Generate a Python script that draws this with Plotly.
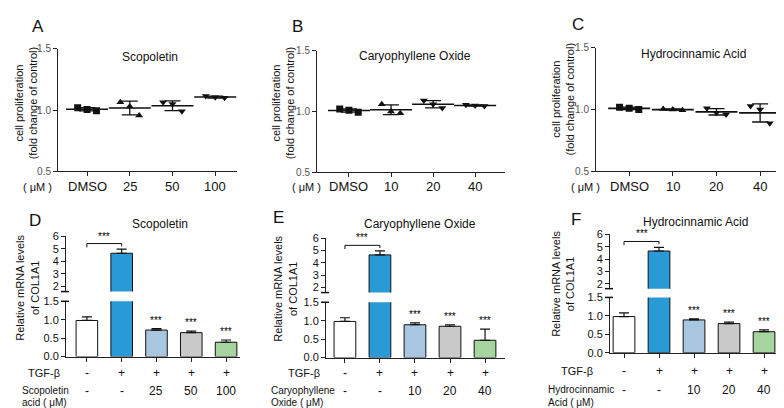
import numpy as np
import plotly.graph_objects as go

W, H = 784, 408
FONT = "Liberation Sans, Arial, sans-serif"

# ---- top row: cell proliferation (fold change of control), 3 replicates per group
prolif_titles = ["Scopoletin", "Caryophyllene Oxide", "Hydrocinnamic Acid"]
scop_doses = ["DMSO", "25", "50", "100"]
cary_doses = ["DMSO", "10", "20", "40"]
hydro_doses = ["DMSO", "10", "20", "40"]
scop_reps = [[1.02, 1.005, 0.995], [1.065, 1.03, 0.955], [1.065, 1.05, 0.99], [1.115, 1.105, 1.10]]
cary_reps = [[1.02, 1.01, 0.995], [1.06, 1.0, 0.985], [1.09, 1.06, 1.03], [1.055, 1.05, 1.045]]
hydro_reps = [[1.02, 1.01, 1.0], [1.005, 1.0, 0.995], [1.01, 0.975, 0.96], [1.03, 1.0, 0.89]]

# ---- bottom row: relative mRNA levels of COL1A1 (mean, SD)
mrna_titles = ["Scopoletin", "Caryophyllene Oxide", "Hydrocinnamic Acid"]
tgf_row = ["-", "+", "+", "+", "+"]
scop_dose_row = ["-", "-", "25", "50", "100"]
cary_dose_row = ["-", "-", "10", "20", "40"]
hydro_dose_row = ["-", "-", "10", "20", "40"]
scop_mrna = [0.98, 4.65, 0.72, 0.65, 0.39]
scop_mrna_err = [0.10, 0.33, 0.04, 0.04, 0.06]
cary_mrna = [0.98, 4.65, 0.89, 0.85, 0.47]
cary_mrna_err = [0.10, 0.33, 0.05, 0.04, 0.30]
hydro_mrna = [0.98, 4.65, 0.89, 0.79, 0.57]
hydro_mrna_err = [0.10, 0.30, 0.03, 0.04, 0.05]
significant = [False, False, True, True, True]

bar_colors = ["#ffffff", "#2a9ad6", "#a8c6df", "#c9c9c9", "#a6d49e"]


def fx(p):
    return p / W


def fy(p):
    return 1 - p / H


def ax_name(n):
    return "" if n == 1 else str(n)


line_style = dict(showline=True, linecolor="#222", linewidth=1, ticks="outside", ticklen=4,
                  tickcolor="#222", showgrid=False, zeroline=False)

fig = go.Figure()
layout = {}
annotations = []
shapes = []


def ann(text, x, y, size=11, xanchor="center", yanchor="middle", xref="paper", yref="paper", color="#111", **kw):
    if xref == "paper":
        x = fx(x)
    if yref == "paper":
        y = fy(y)
    annotations.append(dict(text=text, x=x, y=y, xref=xref, yref=yref, xanchor=xanchor, yanchor=yanchor,
                            showarrow=False, font=dict(size=size, color=color, family=FONT), **kw))


# ---------- top panels
top_specs = [
    # data, doses, x domain px, y domain px (top, bottom), x range, letter pos, title pos, ytitle pos, uM pos
    (scop_reps, scop_doses, (50, 229), (36, 162), (-0.68, 3.51), "A", (30, 13), (142, 44), (18, 92), (29, 178)),
    (cary_reps, cary_doses, (309, 497), (38, 163), (-0.76, 3.71), "B", (289, 13), (407, 43), (275, 92), (298, 178)),
    (hydro_reps, hydro_doses, (588, 777), (35, 162), (-0.76, 3.57), "C", (570, 11), (685, 41), (555, 88), (577, 178)),
]
group_symbols = ["square", "triangle-up", "triangle-down", "triangle-down"]
offsets = [-0.22, 0.0, 0.22]

for k, (reps, doses, xd, yd, xr, letter, lpos, tpos, ypos, upos) in enumerate(top_specs):
    n = k + 1
    xa, ya = "x" + ax_name(n), "y" + ax_name(n)
    reps = np.array(reps)
    idx = np.arange(len(doses))
    means = reps.mean(axis=1)
    sds = reps.std(axis=1, ddof=1)
    for j in range(reps.shape[1]):
        fig.add_trace(go.Scatter(x=idx + offsets[j], y=reps[:, j], mode="markers", xaxis=xa, yaxis=ya,
                                 marker=dict(symbol=group_symbols, size=7, color="#111"),
                                 showlegend=False, hoverinfo="skip"))
    fig.add_trace(go.Scatter(x=idx, y=means, mode="markers", xaxis=xa, yaxis=ya,
                             marker=dict(symbol="line-ew", size=30, line=dict(width=1.6, color="#111")),
                             error_y=dict(type="data", array=sds, color="#111", thickness=1.3, width=8),
                             showlegend=False))
    layout["xaxis" + ax_name(n)] = dict(line_style, domain=[fx(xd[0]), fx(xd[1])], range=list(xr), anchor=ya,
                                        tickvals=list(idx), showticklabels=False)
    layout["yaxis" + ax_name(n)] = dict(line_style, domain=[fy(yd[1]), fy(yd[0])], range=[0.5, 1.5], anchor=xa,
                                        tickvals=[0.5, 1.0, 1.5], tickformat=".1f",
                                        tickfont=dict(size=10, color="#555", family=FONT))
    # dose tick labels
    for i, d in enumerate(doses):
        ann(d, i, upos[1], size=13, xref=xa)
    ann(letter, lpos[0], lpos[1], size=17)
    ann(prolif_titles[k], tpos[0], tpos[1], size=12)
    ann("cell proliferation<br>(fold change of control)", ypos[0], ypos[1], size=11, textangle=-90)
    ann("( μM )", upos[0], upos[1], size=11)

# ---------- bottom panels (broken y axis)
bottom_specs = [
    # data, err, dose row, x domain, lower y dom (top,bottom), upper y dom, x range, letter, title, ytitle,
    # row label (tgf right edge x, tgf y, agent x, agent y1, agent y2), agent label lines
    (scop_mrna, scop_mrna_err, scop_dose_row, (58, 232), (296, 353), (229, 286), (-0.6, 4.4),
     (27, 213), (152, 216), (19, 282), (54, 370, 12, 388, 400), ("Scopoletin", "acid ( μM)")),
    (cary_mrna, cary_mrna_err, cary_dose_row, (318, 497), (297, 354), (231, 287), (-0.54, 4.57),
     (270, 210), (412, 216), (277, 283), (314, 370, 261, 388, 400), ("Caryophyllene", "Oxide ( μM)")),
    (hydro_mrna, hydro_mrna_err, hydro_dose_row, (602, 776), (292, 349), (227, 283), (-0.4, 4.57),
     (568, 212), (687, 214), (555, 278), (587, 368, 538, 387, 400), ("Hydrocinnamic", "Acid ( μM)")),
]
letters = ["D", "E", "F"]

for k, (vals, errs, dose_row, xd, lyd, uyd, xr, lpos, tpos, ypos, rows, agent) in enumerate(bottom_specs):
    nl, nu = 4 + 2 * k, 5 + 2 * k
    xl, yl = "x" + str(nl), "y" + str(nl)
    xu, yu = "x" + str(nu), "y" + str(nu)
    idx = list(range(len(vals)))
    for xa, ya in [(xl, yl), (xu, yu)]:
        fig.add_trace(go.Bar(x=idx, y=vals, xaxis=xa, yaxis=ya, width=0.62,
                             marker=dict(color=bar_colors, line=dict(color="#111", width=1)),
                             error_y=dict(type="data", array=errs, arrayminus=[0] * len(vals), symmetric=False,
                                          color="#111", thickness=1.2, width=5),
                             showlegend=False))
    layout["xaxis" + str(nl)] = dict(line_style, domain=[fx(xd[0]), fx(xd[1])], range=list(xr), anchor=yl,
                                     tickvals=idx, showticklabels=False)
    layout["xaxis" + str(nu)] = dict(domain=[fx(xd[0]), fx(xd[1])], range=list(xr), anchor=yu, visible=False)
    layout["yaxis" + str(nl)] = dict(line_style, domain=[fy(lyd[1]), fy(lyd[0])], range=[0, 1.5], anchor=xl,
                                     tickvals=[0, 0.5, 1.0, 1.5], tickformat=".1f",
                                     tickfont=dict(size=11, color="#111", family=FONT))
    layout["yaxis" + str(nu)] = dict(line_style, domain=[fy(uyd[1]), fy(uyd[0])], range=[1.6, 6], anchor=xu,
                                     tickvals=[2, 3, 4, 5, 6],
                                     tickfont=dict(size=11, color="#111", family=FONT))
    # break marks on the y axis
    for py in (uyd[1], lyd[0]):
        shapes.append(dict(type="line", xref="paper", yref="paper", x0=fx(xd[0] - 5), x1=fx(xd[0] + 3),
                           y0=fy(py), y1=fy(py), line=dict(color="#111", width=1.5)))
    # significance bracket control vs TGF
    shapes.append(dict(type="path", xref=xu, yref=yu, path="M 0,5.12 L 0,5.42 L 1,5.42 L 1,5.2",
                       line=dict(color="#111", width=1)))
    ann("***", 0.5, 5.42, size=10, xref=xu, yref=yu, yanchor="bottom", color="#000")
    for i in idx:
        if significant[i]:
            ann("***", i, vals[i] + errs[i], size=10, xref=xl, yref=yl, yanchor="bottom", yshift=1, color="#000")
        ann(tgf_row[i], i, rows[1], size=12, xref=xl)
        ann(dose_row[i], i, rows[3], size=12, xref=xl)
    ann(letters[k], lpos[0], lpos[1], size=17)
    ann(mrna_titles[k], tpos[0], tpos[1], size=12)
    ann("Relative mRNA levels<br>of COL1A1", ypos[0], ypos[1], size=11, textangle=-90)
    ann("TGF-β", rows[0], rows[1], size=11, xanchor="right")
    ann(agent[0], rows[2], rows[3], size=10, xanchor="left")
    ann(agent[1], rows[2], rows[4], size=10, xanchor="left")

fig.update_layout(width=W, height=H, margin=dict(l=0, r=0, t=0, b=0), paper_bgcolor="white",
                  plot_bgcolor="white", font=dict(family=FONT, color="#111"), barmode="overlay",
                  annotations=annotations, shapes=shapes, **layout)
fig.write_html("out.html")
